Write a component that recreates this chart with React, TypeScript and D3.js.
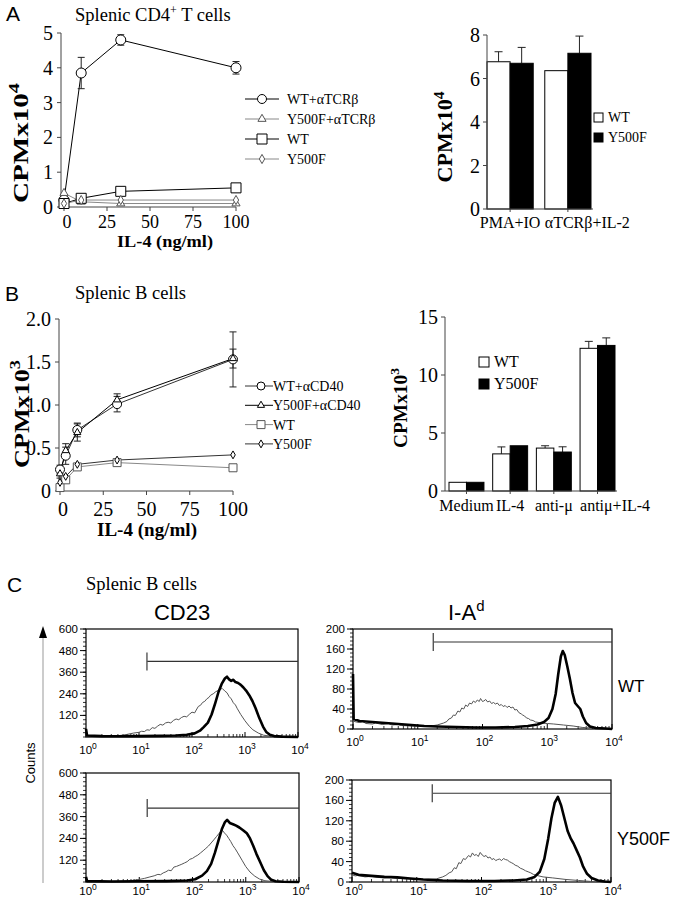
import React from 'react';
import * as d3 from 'd3';

const SERIF = '"Liberation Serif", "Times New Roman", serif';
const SANS = '"Liberation Sans", Arial, sans-serif';

// ---- Panel A, left: proliferation of CD4 T cells vs IL-4 dose
const doseA = [0, 10, 33, 100];
const aWtTcr = [0.2, 3.85, 4.8, 4.0];
const aWtTcrErr = [0, 0.45, 0.15, 0.18];
const aY500fTcr = [0.4, 0.15, 0.1, 0.1];
const aWt = [0.1, 0.25, 0.45, 0.55];
const aY500f = [0.1, 0.2, 0.2, 0.2];
const aYTicks = [0, 1, 2, 3, 4, 5];

// ---- Panel A, right: bars
const aBarGroups = ['PMA+IO', 'αTCRβ+IL-2'];
const aBarWt = [6.77, 6.36];
const aBarWtErr = [0.46, 0];
const aBarY500f = [6.7, 7.16];
const aBarY500fErr = [0.73, 0.79];
const aBarTicks = [0, 2, 4, 6, 8];

// ---- Panel B, left: B cells vs IL-4 dose
const doseB = [0, 3.3, 10, 33, 100];
const bWtCd40 = [0.25, 0.41, 0.71, 1.01, 1.53];
const bWtCd40Err = [0.05, 0.1, 0.08, 0.09, 0.32];
const bY500fCd40 = [0.2, 0.47, 0.68, 1.06, 1.54];
const bY500fCd40Err = [0.05, 0.08, 0.1, 0.07, 0.11];
const bWt = [0.04, 0.13, 0.28, 0.33, 0.27];
const bY500f = [0.1, 0.17, 0.31, 0.36, 0.42];
const bYTicks = [0, 0.5, 1, 1.5, 2];

// ---- Panel B, right: bars
const bBarGroups = ['Medium', 'IL-4', 'anti-μ', 'antiμ+IL-4'];
const bBarWt = [0.75, 3.2, 3.7, 12.3];
const bBarWtErr = [0, 0.6, 0.2, 0.6];
const bBarY500f = [0.75, 3.9, 3.36, 12.55];
const bBarY500fErr = [0, 0, 0.45, 0.65];
const bBarTicks = [0, 5, 10, 15];

const doseTicks = [0, 25, 50, 75, 100];

// ---- Panel C: flow histograms, [log10 fluorescence, counts]
const cd23WtThin = [[0, 0], [0.3, 2], [0.5, 4], [0.7, 10], [0.9, 22], [1.0, 26], [1.05, 32], [1.1, 30], [1.15, 40], [1.2, 38], [1.25, 52], [1.3, 48], [1.35, 60], [1.4, 70], [1.45, 66], [1.5, 78], [1.55, 82], [1.6, 78], [1.65, 92], [1.7, 100], [1.75, 96], [1.8, 108], [1.85, 115], [1.9, 112], [1.95, 126], [2.0, 138], [2.05, 134], [2.08, 150], [2.12, 170], [2.16, 176], [2.2, 192], [2.24, 198], [2.28, 212], [2.32, 220], [2.35, 232], [2.4, 240], [2.45, 252], [2.52, 262], [2.57, 270], [2.62, 255], [2.66, 246], [2.7, 225], [2.74, 212], [2.78, 190], [2.82, 178], [2.85, 160], [2.92, 125], [3.0, 90], [3.08, 60], [3.15, 40], [3.25, 22], [3.35, 10], [3.5, 4], [3.7, 1], [4, 0]];
const cd23WtThick = [[0, 45], [0.02, 8], [0.3, 5], [0.6, 4], [1.0, 5], [1.4, 6], [1.7, 8], [1.9, 12], [2.05, 20], [2.15, 35], [2.22, 55], [2.3, 80], [2.37, 125], [2.44, 190], [2.5, 250], [2.56, 295], [2.62, 325], [2.66, 335], [2.7, 320], [2.74, 312], [2.78, 318], [2.82, 305], [2.87, 300], [2.92, 290], [2.97, 275], [3.02, 258], [3.08, 232], [3.14, 200], [3.2, 160], [3.27, 105], [3.34, 58], [3.4, 28], [3.47, 12], [3.55, 5], [3.7, 2], [4, 0]];
const cd23MutThin = [[0, 0], [0.5, 2], [0.8, 6], [1.0, 14], [1.1, 20], [1.2, 28], [1.28, 34], [1.35, 42], [1.4, 40], [1.45, 50], [1.5, 56], [1.55, 65], [1.6, 62], [1.65, 82], [1.7, 86], [1.75, 92], [1.8, 98], [1.85, 105], [1.9, 112], [1.95, 125], [2.0, 130], [2.05, 140], [2.1, 148], [2.15, 160], [2.2, 172], [2.25, 185], [2.3, 198], [2.35, 215], [2.4, 232], [2.45, 250], [2.52, 275], [2.56, 285], [2.6, 270], [2.64, 258], [2.68, 240], [2.72, 222], [2.76, 200], [2.8, 184], [2.85, 160], [2.93, 120], [3.0, 85], [3.08, 55], [3.17, 32], [3.26, 16], [3.36, 7], [3.5, 3], [3.7, 1], [4, 0]];
const cd23MutThick = [[0, 28], [0.02, 5], [0.5, 3], [1.0, 4], [1.5, 5], [1.9, 8], [2.05, 15], [2.18, 35], [2.27, 60], [2.35, 100], [2.42, 160], [2.49, 230], [2.55, 290], [2.61, 330], [2.65, 342], [2.7, 325], [2.76, 318], [2.82, 310], [2.88, 300], [2.95, 285], [3.02, 268], [3.08, 240], [3.14, 200], [3.2, 155], [3.27, 110], [3.34, 65], [3.41, 32], [3.48, 12], [3.56, 4], [3.7, 1], [4, 0]];
const iaWtThin = [[0, 16], [0.05, 14], [0.1, 13], [0.15, 15], [0.2, 11], [0.3, 10], [0.35, 12], [0.45, 9], [0.55, 11], [0.6, 8], [0.7, 9], [0.75, 7], [0.9, 6], [1.0, 6], [1.1, 5], [1.2, 6], [1.3, 8], [1.4, 12], [1.45, 15], [1.48, 20], [1.52, 22], [1.55, 28], [1.58, 27], [1.62, 36], [1.65, 34], [1.68, 42], [1.71, 40], [1.74, 48], [1.77, 45], [1.8, 52], [1.83, 50], [1.86, 56], [1.89, 53], [1.92, 58], [1.95, 55], [1.97, 61], [2.0, 55], [2.02, 56], [2.05, 59], [2.08, 54], [2.11, 56], [2.14, 51], [2.17, 53], [2.2, 50], [2.23, 52], [2.26, 47], [2.29, 49], [2.32, 45], [2.35, 47], [2.38, 43], [2.41, 46], [2.44, 42], [2.47, 44], [2.5, 38], [2.53, 39], [2.56, 33], [2.6, 30], [2.62, 28], [2.65, 26], [2.68, 22], [2.71, 21], [2.74, 18], [2.78, 17], [2.82, 14], [2.92, 12], [3.0, 11], [3.1, 10], [3.25, 8], [3.4, 6], [3.55, 3], [3.7, 2], [3.85, 1], [4, 0]];
const iaWtThick = [[0, 110], [0.01, 20], [0.1, 16], [0.3, 14], [0.5, 12], [0.7, 10], [0.9, 8], [1.1, 6], [1.3, 5], [1.6, 4], [1.9, 3], [2.2, 3], [2.5, 4], [2.7, 6], [2.85, 9], [2.95, 14], [3.02, 22], [3.08, 40], [3.13, 70], [3.17, 110], [3.21, 145], [3.24, 156], [3.27, 148], [3.31, 125], [3.35, 100], [3.39, 72], [3.43, 52], [3.47, 46], [3.51, 40], [3.55, 25], [3.6, 12], [3.66, 5], [3.75, 2], [3.9, 1], [4, 0]];
const iaMutThin = [[0, 14], [0.05, 12], [0.1, 13], [0.2, 10], [0.3, 11], [0.4, 9], [0.5, 8], [0.6, 9], [0.7, 7], [0.9, 6], [1.1, 5], [1.3, 6], [1.4, 10], [1.45, 13], [1.5, 18], [1.54, 20], [1.58, 28], [1.61, 26], [1.65, 38], [1.68, 36], [1.72, 46], [1.75, 44], [1.8, 52], [1.83, 49], [1.86, 57], [1.89, 52], [1.92, 54], [1.95, 50], [1.98, 58], [2.01, 53], [2.04, 50], [2.07, 52], [2.1, 47], [2.13, 49], [2.16, 44], [2.19, 46], [2.22, 42], [2.25, 44], [2.28, 45], [2.31, 42], [2.34, 46], [2.37, 44], [2.4, 43], [2.43, 40], [2.46, 38], [2.49, 36], [2.52, 33], [2.56, 31], [2.6, 27], [2.64, 25], [2.68, 22], [2.72, 20], [2.76, 18], [2.8, 15], [2.85, 13], [2.95, 10], [3.1, 8], [3.3, 5], [3.5, 3], [3.7, 1], [4, 0]];
const iaMutThick = [[0, 18], [0.1, 14], [0.3, 12], [0.5, 10], [0.7, 9], [0.9, 7], [1.1, 5], [1.4, 3], [1.8, 2], [2.2, 2], [2.5, 3], [2.7, 5], [2.82, 10], [2.9, 20], [2.97, 45], [3.03, 85], [3.08, 125], [3.13, 155], [3.18, 167], [3.23, 150], [3.28, 125], [3.33, 100], [3.38, 85], [3.42, 76], [3.47, 62], [3.52, 48], [3.57, 30], [3.63, 16], [3.7, 8], [3.8, 3], [3.9, 1], [4, 0]];
const cd23Ticks = [120, 240, 360, 480, 600];
const iaTicks = [0, 40, 80, 120, 160, 200];
const cd23GateWt = [1.15, 420];
const cd23GateMut = [1.15, 407];
const iaGate = [1.24, 174];

function Marker({ type, x, y, size, stroke = '#000' }) {
  if (type === 'circle') {
    return <circle cx={x} cy={y} r={size / 2} fill="#fff" stroke={stroke} strokeWidth={1} />;
  }
  const sym = type === 'square' ? d3.symbolSquare : type === 'triangle' ? d3.symbolTriangle : d3.symbolDiamond;
  const area = type === 'square' ? size * size : type === 'triangle' ? size * size * 0.45 : size * size * 0.5;
  return (
    <path
      transform={`translate(${x},${y})`}
      d={d3.symbol(sym, area)() || ''}
      fill="#fff"
      stroke={stroke}
      strokeWidth={1}
    />
  );
}

function RotLabel({ x, y, len, size, sup }) {
  return (
    <text
      transform={`translate(${x},${y}) rotate(-90)`}
      textAnchor="middle"
      fontWeight="bold"
      fontSize={size}
      textLength={len}
      lengthAdjust="spacingAndGlyphs"
    >
      CPMx10<tspan dy={-size * 0.4} fontSize={size * 0.7}>{sup}</tspan>
    </text>
  );
}

function LinePanel({ doses, series, xRange, yRange, yMax, yTicks, fmt, axisX, xLabelY, tickSize, legend }) {
  const x = d3.scaleLinear().domain([0, 100]).range(xRange);
  const y = d3.scaleLinear().domain([0, yMax]).range(yRange);
  const yb = yRange[0];
  const line = d3
    .line<number>()
    .x((d, i) => x(doses[i]))
    .y((d) => y(d));

  return (
    <g>
      <line x1={axisX} x2={axisX} y1={yb} y2={yRange[1]} stroke="#444" />
      <line x1={axisX} x2={xRange[1]} y1={yb} y2={yb} stroke="#444" />
      {yTicks.map((t) => (
        <g key={'y' + t}>
          <line x1={axisX - 4} x2={axisX} y1={y(t)} y2={y(t)} stroke="#444" />
          <text x={axisX - 8} y={y(t)} dy="0.35em" textAnchor="end" fontSize={20}>
            {fmt(t)}
          </text>
        </g>
      ))}
      {doseTicks.map((t) => (
        <g key={'x' + t}>
          <line x1={x(t)} x2={x(t)} y1={yb} y2={yb + 4} stroke="#444" />
          <text x={x(t) + (t === 0 ? 3 : 0)} y={xLabelY} textAnchor="middle" fontSize={tickSize}>
            {t}
          </text>
        </g>
      ))}
      {series.map((s) => (
        <path key={'l' + s.name} d={line(s.values) || ''} fill="none" stroke={s.color} strokeWidth={1} />
      ))}
      {series.map((s) =>
        s.err
          ? s.values.map((v, i) =>
              s.err[i] > 0 ? (
                <g key={'e' + s.name + i} stroke="#222" strokeWidth={1}>
                  <line x1={x(doses[i])} x2={x(doses[i])} y1={y(v - s.err[i])} y2={y(v + s.err[i])} />
                  <line x1={x(doses[i]) - 3.5} x2={x(doses[i]) + 3.5} y1={y(v + s.err[i])} y2={y(v + s.err[i])} />
                  <line x1={x(doses[i]) - 3.5} x2={x(doses[i]) + 3.5} y1={y(v - s.err[i])} y2={y(v - s.err[i])} />
                </g>
              ) : null
            )
          : null
      )}
      {series.map((s) =>
        s.values.map((v, i) => (
          <Marker key={'m' + s.name + i} type={s.marker} x={x(doses[i])} y={y(v)} size={s.size} stroke={s.color === '#888' ? '#555' : '#000'} />
        ))
      )}
      {series.map((s, i) => {
        const ly = legend.y + i * legend.step;
        return (
          <g key={'lg' + s.name}>
            <line x1={legend.x0} x2={legend.x1} y1={ly} y2={ly} stroke={s.color} strokeWidth={1} />
            <Marker type={s.marker} x={legend.mx} y={ly} size={s.legendSize} stroke={s.color === '#888' ? '#555' : '#000'} />
            <text x={legend.tx} y={ly + 5} fontSize={14}>
              {s.name}
            </text>
          </g>
        );
      })}
    </g>
  );
}

function BarPanel({ groups, wt, wtErr, mut, mutErr, ticks, yMax, yRange, xRange, axisX, labelY }) {
  const y = d3.scaleLinear().domain([0, yMax]).range(yRange);
  const gx = d3.scaleBand().domain(groups).range(xRange).paddingInner(0.2).paddingOuter(0);
  const bx = d3.scaleBand().domain(['WT', 'Y500F']).range([0, gx.bandwidth()]);
  const yb = yRange[0];
  const bars = [
    { key: 'WT', vals: wt, errs: wtErr, fill: '#fff' },
    { key: 'Y500F', vals: mut, errs: mutErr, fill: '#000' },
  ];
  return (
    <g>
      {bars.map((b) =>
        groups.map((g, i) => {
          const x0 = (gx(g) || 0) + (bx(b.key) || 0);
          const w = bx.bandwidth();
          const top = y(b.vals[i]);
          const et = y(b.vals[i] + b.errs[i]);
          return (
            <g key={b.key + g}>
              {b.errs[i] > 0 && (
                <g stroke="#222">
                  <line x1={x0 + w / 2} x2={x0 + w / 2} y1={top} y2={et} />
                  <line x1={x0 + w / 2 - 4} x2={x0 + w / 2 + 4} y1={et} y2={et} />
                </g>
              )}
              <rect x={x0} y={top} width={w} height={yb - top} fill={b.fill} stroke="#000" strokeWidth={1} />
            </g>
          );
        })
      )}
      <line x1={axisX} x2={axisX} y1={yb} y2={yRange[1]} stroke="#444" />
      <line x1={axisX} x2={xRange[1] + 2} y1={yb} y2={yb} stroke="#444" />
      {groups.map((g) => (
        <line key={'gt' + g} x1={(gx(g) || 0) + gx.bandwidth() / 2} x2={(gx(g) || 0) + gx.bandwidth() / 2} y1={yb} y2={yb + 3} stroke="#444" />
      ))}
      {ticks.map((t) => (
        <g key={'t' + t}>
          <line x1={axisX - 4} x2={axisX} y1={y(t)} y2={y(t)} stroke="#444" />
          <text x={axisX - 7} y={y(t)} dy="0.35em" textAnchor="end" fontSize={20}>
            {t}
          </text>
        </g>
      ))}
      {groups.map((g, i) => {
        const last = i === groups.length - 1;
        return (
          <text
            key={'gl' + g}
            x={last ? gx(g) || 0 : (gx(g) || 0) + gx.bandwidth() / 2}
            y={labelY}
            textAnchor={last ? 'start' : 'middle'}
            fontSize={16}
          >
            {g}
          </text>
        );
      })}
    </g>
  );
}

function BarLegend({ x, y, step, size, fontSize }) {
  return (
    <g>
      <rect x={x} y={y - size} width={size} height={size} fill="#fff" stroke="#000" />
      <text x={x + size + 5} y={y} fontSize={fontSize}>WT</text>
      <rect x={x} y={y + step - size} width={size} height={size} fill="#000" stroke="#000" />
      <text x={x + size + 5} y={y + step} fontSize={fontSize}>Y500F</text>
    </g>
  );
}

function Histo({ x, y, w, h, yMax, ticks, minorStep, thin, thick, gate, labelDy }) {
  const xs = d3.scaleLinear().domain([0, 4]).range([x, x + w]);
  const ys = d3.scaleLinear().domain([0, yMax]).range([y + h, y]);
  const line = d3
    .line<number[]>()
    .x((d) => xs(d[0]))
    .y((d) => ys(d[1]));
  const minorY = d3.range(0, yMax + 0.001, minorStep);
  const minorX: number[] = [];
  for (let dec = 0; dec < 4; dec++) for (let k = 2; k < 10; k++) minorX.push(dec + Math.log10(k));
  const gx = xs(gate[0]);
  const gy = ys(gate[1]);
  return (
    <g fontFamily={SANS}>
      <rect x={x} y={y} width={w} height={h} fill="none" stroke="#000" strokeWidth={1.2} />
      {minorY.map((t) => (
        <line key={'my' + t} x1={x - 3} x2={x} y1={ys(t)} y2={ys(t)} stroke="#000" strokeWidth={0.8} />
      ))}
      {ticks.map((t) => (
        <g key={'ty' + t}>
          <line x1={x - 6} x2={x} y1={ys(t)} y2={ys(t)} stroke="#000" />
          <text x={x - 8} y={ys(t)} dy="0.35em" textAnchor="end" fontSize={11.5}>
            {t}
          </text>
        </g>
      ))}
      {minorX.map((t) => (
        <line key={'mx' + t} x1={xs(t)} x2={xs(t)} y1={y + h} y2={y + h - 3} stroke="#000" strokeWidth={0.8} />
      ))}
      {[0, 1, 2, 3, 4].map((t) => (
        <g key={'tx' + t}>
          <line x1={xs(t)} x2={xs(t)} y1={y + h} y2={y + h - 5} stroke="#000" />
          <text x={xs(t) + 2} y={y + h + labelDy} textAnchor="middle" fontSize={11.5}>
            10<tspan dy={-5} fontSize={8.5}>{t}</tspan>
          </text>
        </g>
      ))}
      <path d={line(thin) || ''} fill="none" stroke="#555" strokeWidth={1} />
      <path d={line(thick) || ''} fill="none" stroke="#000" strokeWidth={2.6} strokeLinejoin="round" />
      <line x1={gx} x2={x + w} y1={gy} y2={gy} stroke="#333" strokeWidth={1.2} />
      <line x1={gx} x2={gx} y1={gy - 9} y2={gy + 9} stroke="#555" strokeWidth={1.4} />
    </g>
  );
}

export default function App() {
  const seriesA = [
    { name: 'WT+αTCRβ', values: aWtTcr, err: aWtTcrErr, marker: 'circle', color: '#000', size: 10, legendSize: 9 },
    { name: 'Y500F+αTCRβ', values: aY500fTcr, marker: 'triangle', color: '#888', size: 8, legendSize: 8 },
    { name: 'WT', values: aWt, marker: 'square', color: '#000', size: 10, legendSize: 10 },
    { name: 'Y500F', values: aY500f, marker: 'diamond', color: '#888', size: 7, legendSize: 7 },
  ];
  const seriesB = [
    { name: 'WT+αCD40', values: bWtCd40, err: bWtCd40Err, marker: 'circle', color: '#333', size: 9, legendSize: 8 },
    { name: 'Y500F+αCD40', values: bY500fCd40, err: bY500fCd40Err, marker: 'triangle', color: '#000', size: 7, legendSize: 7 },
    { name: 'WT', values: bWt, marker: 'square', color: '#888', size: 8, legendSize: 8 },
    { name: 'Y500F', values: bY500f, marker: 'diamond', color: '#333', size: 6, legendSize: 6 },
  ];

  return (
    <svg
      width={674}
      height={900}
      style={{ position: 'absolute', left: 0, top: 0 }}
      fontFamily={SERIF}
    >
      <rect width={674} height={900} fill="#fff" />

      {/* Panel A */}
      <text x={6} y={21} fontFamily={SANS} fontSize={21}>A</text>
      <text x={75} y={21} fontSize={18.5}>
        Splenic CD4<tspan dy={-7} fontSize={12}>+</tspan>
        <tspan dy={7}> T cells</tspan>
      </text>
      <LinePanel
        doses={doseA}
        series={seriesA}
        xRange={[64, 236]}
        yRange={[207, 33]}
        yMax={5}
        yTicks={aYTicks}
        fmt={(t) => String(t)}
        axisX={61}
        xLabelY={228}
        tickSize={18}
        legend={{ x0: 245, x1: 279, mx: 262, tx: 287, y: 99, step: 20 }}
      />
      <RotLabel x={28} y={143} len={120} size={22} sup="4" />
      <text x={165} y={247} textAnchor="middle" fontWeight="bold" fontSize={16} textLength={96} lengthAdjust="spacingAndGlyphs">
        IL-4 (ng/ml)
      </text>

      <BarPanel
        groups={aBarGroups}
        wt={aBarWt}
        wtErr={aBarWtErr}
        mut={aBarY500f}
        mutErr={aBarY500fErr}
        ticks={aBarTicks}
        yMax={8}
        yRange={[209, 35]}
        xRange={[487, 591]}
        axisX={487}
        labelY={228}
      />
      <RotLabel x={452} y={137} len={91} size={21} sup="4" />
      <BarLegend x={594} y={122} step={20} size={9} fontSize={14} />

      {/* Panel B */}
      <text x={5} y={301} fontFamily={SANS} fontSize={21}>B</text>
      <text x={75} y={299} fontSize={18.5}>Splenic B cells</text>
      <LinePanel
        doses={doseB}
        series={seriesB}
        xRange={[60, 233]}
        yRange={[491, 319]}
        yMax={2}
        yTicks={bYTicks}
        fmt={(t) => (t === 0 ? '0' : d3.format('.1f')(t))}
        axisX={59}
        xLabelY={516}
        tickSize={20}
        legend={{ x0: 245, x1: 273, mx: 261, tx: 273, y: 386, step: 19.3 }}
      />
      <RotLabel x={29} y={414} len={108} size={22} sup="3" />
      <text x={147} y={536} textAnchor="middle" fontWeight="bold" fontSize={18} textLength={100} lengthAdjust="spacingAndGlyphs">
        IL-4 (ng/ml)
      </text>

      <BarPanel
        groups={bBarGroups}
        wt={bBarWt}
        wtErr={bBarWtErr}
        mut={bBarY500f}
        mutErr={bBarY500fErr}
        ticks={bBarTicks}
        yMax={15}
        yRange={[491, 317]}
        xRange={[449, 615]}
        axisX={445}
        labelY={511}
      />
      <RotLabel x={407} y={408} len={80} size={19} sup="3" />
      <BarLegend x={479} y={367} step={22} size={10} fontSize={16} />

      {/* Panel C */}
      <text x={7} y={592} fontFamily={SANS} fontSize={21}>C</text>
      <text x={86} y={590} fontSize={18.5}>Splenic B cells</text>
      <text x={182} y={620} textAnchor="middle" fontFamily={SANS} fontSize={22}>CD23</text>
      <text x={448} y={620} fontFamily={SANS} fontSize={22}>
        I-A<tspan dy={-9} fontSize={15}>d</tspan>
      </text>

      <line x1={43} x2={43} y1={636} y2={883} stroke="#999" strokeWidth={1} />
      <path d="M43,626 L39,638 L47,638 Z" fill="#000" />
      <text transform="translate(35,763) rotate(-90)" textAnchor="middle" fontFamily={SANS} fontSize={13}>
        Counts
      </text>

      <Histo x={86} y={629} w={212} h={108} yMax={600} ticks={cd23Ticks} minorStep={24} thin={cd23WtThin} thick={cd23WtThick} gate={cd23GateWt} labelDy={17} />
      <Histo x={86} y={773} w={213} h={109} yMax={600} ticks={cd23Ticks} minorStep={24} thin={cd23MutThin} thick={cd23MutThick} gate={cd23GateMut} labelDy={13} />
      <Histo x={353} y={629} w={259} h={100} yMax={200} ticks={iaTicks} minorStep={8} thin={iaWtThin} thick={iaWtThick} gate={iaGate} labelDy={17} />
      <Histo x={352} y={780} w={259} h={102} yMax={200} ticks={iaTicks} minorStep={8} thin={iaMutThin} thick={iaMutThick} gate={iaGate} labelDy={13} />

      <text x={618} y={692} fontFamily={SANS} fontSize={17}>WT</text>
      <text x={617} y={845} fontFamily={SANS} fontSize={18}>Y500F</text>
    </svg>
  );
}
